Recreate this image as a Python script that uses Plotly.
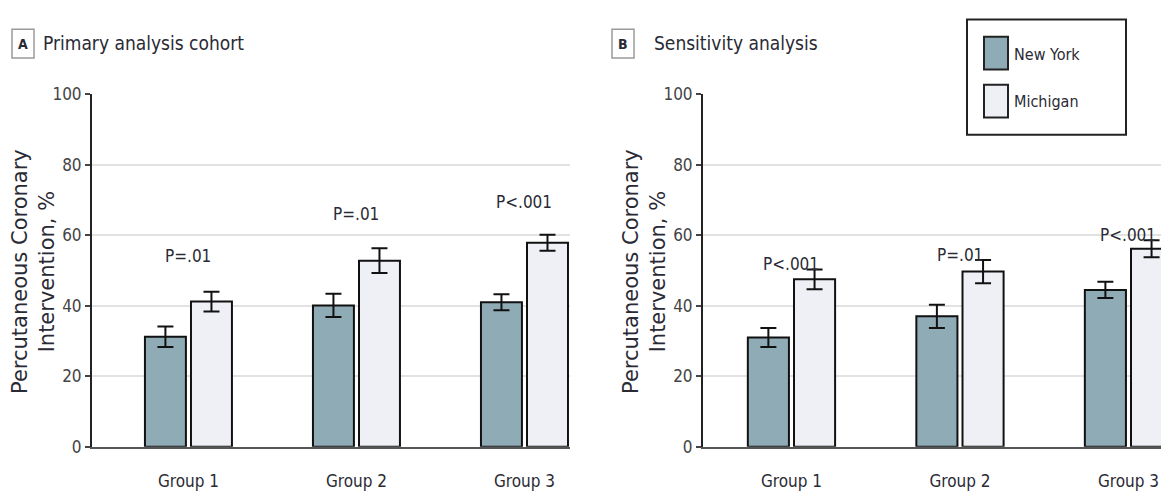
import plotly.graph_objects as go

# ---------------- data ----------------
groups = ["Group 1", "Group 2", "Group 3"]

primary_ny = [31.2, 40.1, 41.0]
primary_ny_err = [2.9, 3.3, 2.3]
primary_mi = [41.2, 52.8, 57.9]
primary_mi_err = [2.8, 3.5, 2.3]
primary_p = ["P=.01", "P=.01", "P<.001"]
primary_p_y = [54, 66, 69.5]

sens_ny = [31.0, 37.0, 44.5]
sens_ny_err = [2.7, 3.3, 2.3]
sens_mi = [47.5, 49.7, 56.2]
sens_mi_err = [2.8, 3.3, 2.4]
sens_p = ["P<.001", "P=.01", "P<.001"]
sens_p_y = [52, 54.5, 60]

series_names = ["New York", "Michigan"]
y_ticks = [0, 20, 40, 60, 80, 100]

# ---------------- style ----------------
FONT = "Liberation Sans Narrow, DejaVu Sans Condensed, Roboto Condensed, Arial Narrow, sans-serif"
FONT_WIDE = "DejaVu Sans, sans-serif"
NY_COLOR = "#8fabb6"
MI_COLOR = "#eef0f6"
TXT = "#2a2a35"
W, H = 1161, 496

fig = go.Figure()

def add_pair(ny, ny_err, mi, mi_err, xa, ya):
    for name, vals, errs, col in [(series_names[0], ny, ny_err, NY_COLOR),
                                  (series_names[1], mi, mi_err, MI_COLOR)]:
        fig.add_trace(go.Bar(
            x=groups, y=vals, name=name, xaxis=xa, yaxis=ya,
            marker=dict(color=col, line=dict(color="#111111", width=2)),
            error_y=dict(type="data", array=errs, color="#111111", thickness=2, width=8),
            showlegend=False,
        ))

add_pair(primary_ny, primary_ny_err, primary_mi, primary_mi_err, "x", "y")
add_pair(sens_ny, sens_ny_err, sens_mi, sens_mi_err, "x2", "y2")

ydom = [41 / H, 408 / H]

def xax(domain, rng, anchor):
    return dict(domain=domain, range=rng, type="category", showgrid=False,
                showline=True, linecolor="#555555", linewidth=2, ticks="",
                ticklabelstandoff=18,
                tickfont=dict(family=FONT, size=17, color=TXT), zeroline=False,
                anchor=anchor)

def yax(anchor):
    return dict(domain=ydom, range=[0, 100], tickvals=y_ticks, showgrid=True,
                gridcolor="#e2e2e2", gridwidth=1.5, showline=True, linecolor="#222222",
                linewidth=2, ticks="outside", ticklen=5, tickwidth=1.5, tickcolor="#444444",
                tickfont=dict(family=FONT, size=17, color="#444444"), zeroline=False,
                anchor=anchor)

fig.update_layout(
    width=W, height=H, margin=dict(l=0, r=0, t=0, b=0),
    plot_bgcolor="white", paper_bgcolor="white",
    barmode="group", bargap=0.452, bargroupgap=0.11,
    xaxis=xax([92 / W, 570 / W], [-0.574, 2.271], "y"),
    xaxis2=xax([703 / W, 1.0], [-0.525, 2.193], "y2"),
    yaxis=yax("x"), yaxis2=yax("x2"),
    font=dict(family=FONT, color=TXT),
)

ann = []
# p-values
for g, t, yv in zip(groups, primary_p, primary_p_y):
    ann.append(dict(x=g, y=yv, xref="x", yref="y", text=t, showarrow=False,
                    xanchor="center", yanchor="middle",
                    font=dict(family=FONT, size=17, color=TXT)))
for g, t, yv in zip(groups, sens_p, sens_p_y):
    ann.append(dict(x=g, y=yv, xref="x2", yref="y2", text=t, showarrow=False,
                    xanchor="center", yanchor="middle",
                    font=dict(family=FONT, size=17, color=TXT)))

# y-axis titles
for xc in [34, 645]:
    ann.append(dict(x=xc / W, y=(H - 273) / H, xref="paper", yref="paper",
                    text="Percutaneous Coronary<br>Intervention, %", textangle=-90,
                    xanchor="center", yanchor="middle",
                    showarrow=False, font=dict(family=FONT_WIDE, size=21, color=TXT)))

# panel titles
shapes = []
for (x0, x1, letter, title, tx) in [(12, 34, "A", "Primary analysis cohort", 41),
                                     (612, 634, "B", "Sensitivity analysis", 652)]:
    shapes.append(dict(type="rect", xref="paper", yref="paper",
                       x0=x0 / W, x1=x1 / W, y0=(H - 50) / H, y1=(H - 20) / H,
                       line=dict(color="#9a9a9a", width=1.5), fillcolor="white"))
    ann.append(dict(x=(x0 + x1) / 2 / W, y=(H - 35) / H, xref="paper", yref="paper",
                    text="<b>" + letter + "</b>", showarrow=False,
                    xanchor="center", yanchor="middle",
                    font=dict(family=FONT, size=14, color=TXT)))
    ann.append(dict(x=tx / W, y=(H - 34) / H, xref="paper", yref="paper",
                    text=title, showarrow=False, xanchor="left", yanchor="middle",
                    font=dict(family=FONT, size=19, color=TXT)))

# legend (drawn manually to match the large swatches)
shapes.append(dict(type="rect", xref="paper", yref="paper",
                   x0=967 / W, x1=1126 / W, y0=(H - 130) / H, y1=(H - 10) / H,
                   line=dict(color="#222222", width=2), fillcolor="white"))
for (yt, yb, col, name, ty) in [(28, 62, NY_COLOR, series_names[0], 46),
                                 (78, 112, MI_COLOR, series_names[1], 95)]:
    shapes.append(dict(type="rect", xref="paper", yref="paper",
                       x0=984 / W, x1=1008 / W, y0=(H - yb) / H, y1=(H - yt) / H,
                       line=dict(color="#222222", width=2), fillcolor=col))
    ann.append(dict(x=1012 / W, y=(H - ty) / H, xref="paper", yref="paper",
                    text=name, showarrow=False, xanchor="left", yanchor="middle",
                    font=dict(family=FONT, size=16, color=TXT)))

fig.update_layout(annotations=ann, shapes=shapes)
fig.write_html("out.html")
